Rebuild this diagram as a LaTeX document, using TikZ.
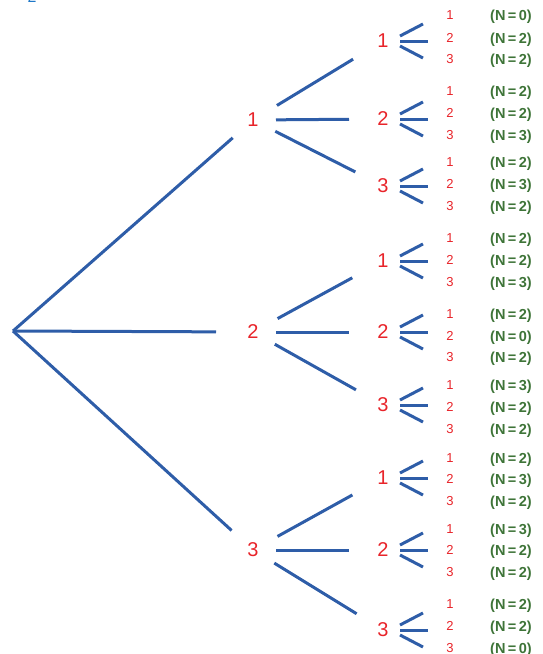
\documentclass[tikz,border=0pt]{standalone}
\usepackage{fontspec}
\setmainfont{Liberation Sans}
\usetikzlibrary{calc}
\definecolor{lineblue}{RGB}{46,93,168}
\definecolor{digred}{RGB}{232,36,42}
\definecolor{ngreen}{RGB}{62,116,56}
\definecolor{headblue}{RGB}{30,120,200}
\begin{document}
\begin{tikzpicture}[x=1pt,y=-1pt,
  br/.style={draw=lineblue, line width=3pt},
  lab/.style={text=digred, font=\fontsize{20}{20}\selectfont, inner sep=0pt},
  slab/.style={text=digred, font=\fontsize{13}{13}\selectfont, inner sep=0pt},
  nlab/.style={text=ngreen, font=\bfseries\fontsize{14.5}{14.5}\selectfont, inner sep=0pt, anchor=west}]
\useasboundingbox (0,0) rectangle (542,654);
\node[text=headblue, font=\fontsize{16}{16}\selectfont, inner sep=0pt] (hd) at (32,-3) {2};
\coordinate (root) at (13,331);
\node[lab] (A1) at (253,120) {1};
\node[lab] (A2) at (253,332) {2};
\node[lab] (A3) at (253,550) {3};
\draw[br, shorten >=27pt] (root) -- (A1.center);
\draw[br, shorten >=37pt] (root) -- (A2.center);
\draw[br, shorten >=29pt] (root) -- (A3.center);
\foreach \i/\d/\y/\p/\s/\e in {1/1/41/A1/28/35, 2/2/119/A1/23/34, 3/3/186/A1/25/31,
  4/1/261/A2/28/35, 5/2/332/A2/23/34, 6/3/405/A2/25/31,
  7/1/478/A3/28/35, 8/2/550/A3/23/34, 9/3/630/A3/25/31}{
  \node[lab] (B\i) at (383,\y) {\d};
  \draw[br, shorten <=\s pt, shorten >=\e pt] (\p.center) -- (B\i.center);
  \draw[br] ($(B\i.center)+(17,-5)$) -- ($(B\i.center)+(40,-17)$);
  \draw[br] ($(B\i.center)+(17,0)$) -- ($(B\i.center)+(45,0)$);
  \draw[br] ($(B\i.center)+(17,5)$) -- ($(B\i.center)+(40,17)$);
}
\foreach \i/\ya/\yb/\yc/\na/\nb/\nc in {1/17/40/61/0/2/2, 2/93/115/137/2/2/3,
  3/164/186/208/2/3/2, 4/240/262/284/2/2/3, 5/316/338/359/2/0/2,
  6/387/409/431/3/2/2, 7/460/481/503/2/3/2, 8/531/552/574/3/2/2,
  9/606/628/650/2/2/0}{
  \node[slab] (S\i a) at (450,\ya-2) {1};
  \node[slab] (S\i b) at (450,\yb-2) {2};
  \node[slab] (S\i c) at (450,\yc-2) {3};
  \node[nlab] (N\i a) at (490,\ya) {(N\,=\,\na)};
  \node[nlab] (N\i b) at (490,\yb) {(N\,=\,\nb)};
  \node[nlab] (N\i c) at (490,\yc) {(N\,=\,\nc)};
}
\end{tikzpicture}
\end{document}
